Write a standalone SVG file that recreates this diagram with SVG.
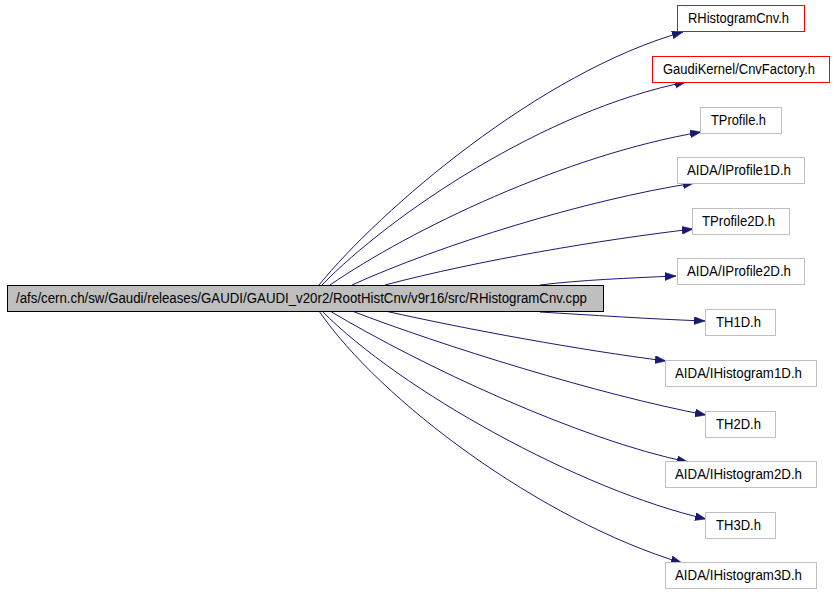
<svg xmlns="http://www.w3.org/2000/svg" width="834" height="594" viewBox="0 0 834 594">
<style>
text{font-family:"Liberation Sans",Arial,sans-serif;font-size:14px;fill:#000;text-anchor:middle}
.main{fill:#bfbfbf;stroke:#000;stroke-width:1}
.red{fill:#fff;stroke:#ff0000;stroke-width:1}
.grey{fill:#fff;stroke:#bfbfbf;stroke-width:1}
.edge{fill:none;stroke:#191970;stroke-width:1;marker-end:url(#arr)}
</style>
<defs>
<marker id="arr" markerUnits="userSpaceOnUse" markerWidth="12" markerHeight="9" refX="11" refY="4" orient="auto">
<path d="M0,0 L11,4 L0,8 z" fill="#191970" stroke="#191970" stroke-width="0.5"/>
</marker>
</defs>
<rect width="834" height="594" fill="#fff"/>
<g id="connectors">
<path class="edge" d="M319,285 C380,210 540,72 683,32"/>
<path class="edge" d="M322,285 C390,215 545,110 686,82"/>
<path class="edge" d="M330,285 C410,230 565,155 701,132"/>
<path class="edge" d="M352,285 C440,245 585,200 694,183"/>
<path class="edge" d="M385,285 C480,260 600,240 693,229"/>
<path class="edge" d="M540,285 C580,280 630,278 676,276"/>
<path class="edge" d="M540,312 C590,315 650,319 705,321"/>
<path class="edge" d="M385,311 C470,330 580,350 666,361"/>
<path class="edge" d="M352,311 C440,345 600,395 706,415"/>
<path class="edge" d="M330,311 C420,365 580,440 688,462"/>
<path class="edge" d="M322,311 C400,390 580,490 706,519"/>
<path class="edge" d="M319,311 C380,400 540,520 682,563"/>
</g>
<g id="n0"><rect class="main" x="7.5" y="285.5" width="596" height="26"/><text x="301.5" y="303" textLength="571" lengthAdjust="spacingAndGlyphs">/afs/cern.ch/sw/Gaudi/releases/GAUDI/GAUDI_v20r2/RootHistCnv/v9r16/src/RHistogramCnv.cpp</text></g>
<g id="n1"><rect class="red" x="677.5" y="5.5" width="127" height="26"/><text x="738.5" y="23" textLength="101" lengthAdjust="spacingAndGlyphs">RHistogramCnv.h</text></g>
<g id="n2"><rect class="red" x="652.5" y="56.5" width="177" height="26"/><text x="739" y="74" textLength="152" lengthAdjust="spacingAndGlyphs">GaudiKernel/CnvFactory.h</text></g>
<g id="n3"><rect class="grey" x="700.5" y="107.5" width="81" height="26"/><text x="738.5" y="125" textLength="55" lengthAdjust="spacingAndGlyphs">TProfile.h</text></g>
<g id="n4"><rect class="grey" x="677.5" y="157.5" width="127" height="26"/><text x="739" y="175" textLength="104" lengthAdjust="spacingAndGlyphs">AIDA/IProfile1D.h</text></g>
<g id="n5"><rect class="grey" x="692.5" y="208.5" width="97" height="26"/><text x="738.5" y="226" textLength="73" lengthAdjust="spacingAndGlyphs">TProfile2D.h</text></g>
<g id="n6"><rect class="grey" x="677.5" y="258.5" width="127" height="26"/><text x="739" y="276" textLength="104" lengthAdjust="spacingAndGlyphs">AIDA/IProfile2D.h</text></g>
<g id="n7"><rect class="grey" x="705.5" y="309.5" width="70" height="26"/><text x="738.5" y="327" textLength="45" lengthAdjust="spacingAndGlyphs">TH1D.h</text></g>
<g id="n8"><rect class="grey" x="665.5" y="360.5" width="151" height="26"/><text x="738.5" y="378" textLength="127" lengthAdjust="spacingAndGlyphs">AIDA/IHistogram1D.h</text></g>
<g id="n9"><rect class="grey" x="705.5" y="411.5" width="70" height="26"/><text x="738.5" y="429" textLength="45" lengthAdjust="spacingAndGlyphs">TH2D.h</text></g>
<g id="n10"><rect class="grey" x="665.5" y="461.5" width="151" height="26"/><text x="738.5" y="479" textLength="127" lengthAdjust="spacingAndGlyphs">AIDA/IHistogram2D.h</text></g>
<g id="n11"><rect class="grey" x="705.5" y="512.5" width="70" height="26"/><text x="738.5" y="530" textLength="45" lengthAdjust="spacingAndGlyphs">TH3D.h</text></g>
<g id="n12"><rect class="grey" x="665.5" y="562.5" width="151" height="26"/><text x="738.5" y="580" textLength="127" lengthAdjust="spacingAndGlyphs">AIDA/IHistogram3D.h</text></g>
</svg>
